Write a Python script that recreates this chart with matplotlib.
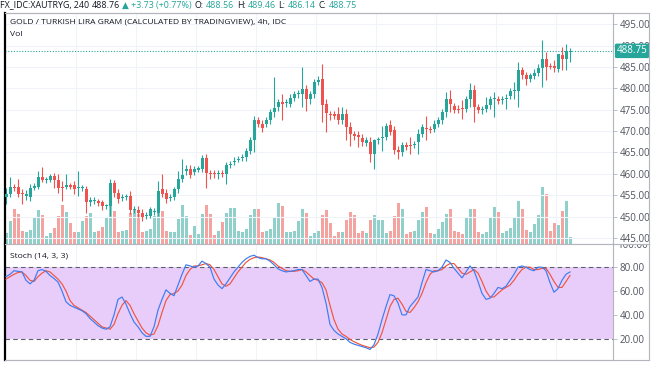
import matplotlib
matplotlib.use("Agg")
import matplotlib.pyplot as plt
from matplotlib.lines import Line2D
from matplotlib.transforms import Bbox, TransformedBbox, blended_transform_factory
import numpy as np

plt.rcParams['font.family'] = ['Open Sans', 'DejaVu Sans']

# --- data (4h candles) ---
opens = [454.7, 455.4, 457.0, 457.0, 455.5, 454.8, 454.6, 456.8, 457.0, 459.3,
         458.5, 458.5, 459.5, 458.5, 456.9, 456.9, 457.3, 457.3, 456.6, 456.7,
         456.4, 453.5, 453.7, 453.5, 453.5, 452.4, 452.5, 457.9, 455.6, 454.4,
         454.6, 454.8, 451.5, 451.6, 450.9, 450.1, 450.2, 451.0, 450.9, 456.4,
         455.6, 454.3, 454.6, 456.4, 458.8, 460.6, 461.1, 460.5, 461.0, 461.1,
         463.8, 460.3, 460.2, 459.9, 460.3, 459.9, 462.0, 462.7, 463.3, 463.7,
         463.9, 465.4, 467.9, 472.6, 471.7, 471.7, 472.5, 474.4, 475.6, 476.9,
         476.5, 476.4, 477.8, 478.6, 478.7, 479.9, 477.5, 478.6, 481.5, 482.2,
         476.4, 474.0, 474.0, 474.0, 472.6, 474.0, 470.9, 469.2, 469.0, 468.4,
         467.1, 467.5, 464.6, 467.9, 468.3, 468.5, 471.5, 470.3, 465.6, 465.0,
         466.8, 466.8, 466.8, 467.4, 469.2, 470.8, 470.5, 470.5, 471.7, 472.6,
         474.4, 477.5, 475.8, 475.2, 475.3, 475.2, 477.5, 479.7, 475.6, 474.9,
         475.2, 476.0, 477.5, 477.5, 477.3, 477.4, 478.3, 479.4, 479.3, 484.2,
         483.2, 482.2, 482.8, 483.6, 484.8, 486.9, 485.2, 485.1, 484.6, 487.7,
         486.9, 488.56]
closes = [455.4, 457.0, 456.7, 455.4, 455.2, 455.4, 456.8, 457.0, 459.3, 458.5,
          458.6, 459.5, 458.5, 456.8, 456.7, 457.3, 456.9, 456.4, 456.8, 456.8,
          453.5, 453.8, 454.0, 453.3, 452.5, 452.5, 457.9, 455.6, 454.1, 454.6,
          454.8, 451.5, 451.7, 450.9, 449.9, 450.4, 451.7, 451.2, 455.9, 455.2,
          454.1, 454.5, 456.4, 458.8, 459.8, 461.1, 459.8, 461.1, 461.2, 463.8,
          460.1, 459.9, 459.9, 460.2, 459.9, 462.0, 462.4, 463.1, 463.5, 464.0,
          465.4, 467.9, 472.6, 471.7, 470.7, 472.5, 474.4, 475.4, 476.9, 476.4,
          476.7, 477.8, 478.6, 478.8, 479.9, 477.5, 478.6, 481.5, 482.0, 476.1,
          474.2, 473.8, 473.6, 472.6, 474.0, 470.9, 469.2, 468.9, 468.7, 467.5,
          467.9, 464.6, 467.8, 468.1, 468.5, 471.3, 469.7, 465.6, 465.0, 466.8,
          466.2, 466.5, 467.0, 469.3, 471.0, 470.5, 470.3, 471.7, 472.6, 474.4,
          477.5, 476.4, 475.0, 474.9, 475.1, 477.5, 479.7, 475.6, 474.9, 475.2,
          476.0, 477.5, 477.7, 477.1, 477.5, 477.6, 479.3, 479.5, 484.2, 483.0,
          482.1, 483.0, 483.6, 484.8, 486.9, 485.0, 485.0, 484.8, 487.9, 486.9,
          488.7, 488.75]
highs = [456.8, 459.2, 457.6, 458.8, 456.4, 456.2, 457.6, 457.8, 460.7, 461.6,
         459.3, 460.0, 460.3, 459.9, 458.4, 459.9, 457.8, 458.4, 460.7, 457.5,
         457.2, 454.5, 454.7, 454.2, 454.0, 453.0, 458.8, 458.6, 456.4, 455.4,
         455.4, 456.0, 452.5, 452.5, 451.7, 451.0, 452.2, 452.0, 458.4, 459.9,
         456.4, 455.3, 457.0, 460.7, 463.5, 462.0, 462.0, 461.9, 461.9, 464.5,
         464.6, 461.0, 460.9, 460.9, 461.0, 462.7, 463.0, 463.9, 464.2, 464.6,
         466.1, 468.6, 473.6, 473.3, 472.5, 473.3, 475.2, 482.6, 477.6, 478.7,
         477.5, 478.7, 479.4, 479.5, 485.0, 480.7, 479.4, 482.2, 482.8, 485.6,
         477.5, 474.8, 474.8, 475.6, 475.6, 475.2, 472.1, 470.1, 470.1, 469.3,
         468.6, 468.5, 468.2, 468.7, 471.3, 472.0, 472.5, 471.3, 466.6, 467.5,
         467.5, 468.5, 467.7, 470.5, 471.7, 473.6, 471.2, 472.5, 473.3, 475.2,
         479.1, 479.5, 476.5, 476.0, 477.2, 478.3, 481.2, 480.7, 476.4, 475.9,
         477.9, 478.3, 479.1, 478.3, 478.3, 478.7, 480.0, 481.5, 486.1, 485.0,
         483.8, 483.6, 484.4, 485.6, 491.2, 488.5, 485.8, 486.5, 488.1, 489.7,
         490.3, 489.46]
lows = [452.9, 454.5, 456.0, 454.5, 452.9, 453.9, 453.7, 456.2, 456.4, 458.0,
        457.8, 458.0, 456.8, 455.6, 453.7, 456.4, 456.4, 455.2, 454.8, 456.0,
        450.9, 452.5, 453.0, 452.5, 451.5, 451.8, 450.2, 454.6, 453.3, 453.7,
        453.9, 450.5, 450.9, 449.8, 449.0, 449.4, 449.6, 450.3, 450.1, 454.5,
        453.3, 453.7, 453.9, 455.6, 458.0, 459.8, 459.0, 459.8, 460.4, 460.5,
        456.8, 458.8, 459.0, 458.8, 459.2, 457.6, 461.4, 462.0, 462.7, 463.1,
        463.1, 464.6, 465.0, 471.0, 469.7, 470.9, 471.7, 473.2, 474.8, 472.5,
        475.6, 475.6, 477.0, 477.8, 475.6, 474.8, 476.4, 477.8, 480.7, 472.1,
        469.7, 472.5, 472.9, 471.7, 471.7, 467.8, 466.6, 467.8, 466.2, 466.6,
        466.4, 462.7, 461.1, 467.0, 465.4, 467.8, 469.0, 464.6, 463.5, 464.2,
        465.5, 464.6, 466.0, 464.6, 468.5, 467.8, 469.6, 469.7, 471.0, 471.7,
        473.2, 474.4, 474.2, 474.2, 472.9, 474.4, 475.6, 472.1, 474.2, 474.1,
        474.4, 475.2, 473.2, 476.4, 476.4, 475.2, 477.5, 477.5, 475.6, 482.2,
        480.7, 481.5, 482.2, 482.8, 480.3, 482.0, 484.4, 483.8, 483.8, 484.2,
        484.2, 486.14]
volumes = [32, 70, 107, 92, 38, 35, 43, 77, 103, 88,
           25, 32, 47, 83, 118, 97, 62, 37, 37, 70,
           83, 95, 37, 40, 52, 80, 118, 100, 37, 40,
           43, 95, 103, 90, 35, 40, 45, 85, 108, 100,
           38, 37, 35, 75, 118, 85, 28, 53, 30, 92,
           118, 90, 28, 38, 65, 93, 110, 110, 38, 37,
           45, 88, 105, 107, 35, 38, 45, 82, 123, 115,
           35, 37, 40, 70, 105, 93, 25, 32, 40, 88,
           103, 63, 25, 35, 35, 73, 98, 87, 33, 40,
           33, 73, 88, 73, 73, 33, 40, 85, 125, 105,
           30, 35, 40, 73, 97, 112, 33, 30, 45, 67,
           90, 107, 40, 35, 30, 80, 107, 107, 35, 30,
           35, 82, 112, 97, 33, 40, 47, 80, 130, 105,
           42, 35, 60, 88, 172, 152, 40, 63, 57, 100,
           130, 20]
stoch_k = [72, 74, 77, 76.5, 76, 69, 66, 69, 77, 78,
           76.5, 73, 70.5, 67.5, 60, 51, 48, 46.5, 45, 43.5,
           41, 37, 34, 31, 29, 28, 30, 40, 53, 55,
           49, 41, 34, 30, 25, 22, 22, 30, 44, 53,
           61, 58, 56, 65, 74, 82, 81, 80, 81, 85,
           83, 80, 70, 65, 62, 66, 71, 76, 80, 84,
           87, 89, 90, 88, 87, 87, 85, 82, 78.6, 77,
           76, 76.5, 77, 78, 78, 73, 68, 70, 70, 63,
           50, 32, 27, 24, 22, 20, 17, 15.5, 14.5, 13.5,
           12.5, 11, 15, 24, 36, 47, 57, 56, 50, 40,
           40, 47, 51, 55, 67, 78, 77, 76, 77, 80,
           86, 84, 79, 75, 71, 76, 81, 77, 68, 58,
           53, 54, 58, 63, 62, 64, 69, 74, 80, 81,
           80, 78, 77, 80, 80, 77, 67, 59, 62, 69,
           74, 76]
stoch_d = [70, 72, 74, 75.5, 76, 73, 69, 68, 72, 75,
           77, 76, 73, 70, 66, 60, 52, 48, 46, 44,
           42, 39, 36, 33, 30, 29, 28, 32, 41, 48,
           52, 48, 41, 35, 29, 25, 23, 24, 31, 42,
           52, 57, 58, 60, 65, 73, 78, 81, 81, 82,
           83, 82, 78, 72, 66, 64, 66, 71, 76, 80,
           84, 86.5, 88, 88.5, 88, 87, 86, 84, 81, 79,
           77, 76.5, 76.5, 77, 78, 76, 73, 70, 69, 67,
           61, 48, 36, 28, 24, 22, 19.5, 17.5, 16, 14.5,
           13.5, 12.5, 13, 17, 25, 36, 47, 53, 54, 49,
           43, 42, 46, 51, 58, 67, 74, 77, 77, 78,
           81, 83, 83, 79, 75, 74, 76, 78, 75, 68,
           60, 55, 55, 58, 61, 63, 65, 69, 74, 78,
           80, 80, 78, 78, 79, 79, 74, 68, 63, 63,
           68, 73]
price_ticks = [445, 450, 455, 460, 465, 470, 475, 480, 485, 490, 495]
stoch_ticks = [20, 40, 60, 80]
last_price = 488.75

# --- colours ---
UP, DOWN = '#26a69a', '#ef5350'
UP_VOL, DOWN_VOL = '#8fd0ca', '#f5a3a1'
GRID = '#f0f3fa'
TXT = '#131722'
AXT = '#50535e'
FRAME = '#b2b5be'

W, H = 654, 366
fig = plt.figure(figsize=(W / 100, H / 100), dpi=100)


def fx(px):
    return px / W


def fy(py):
    return 1 - py / H


L, R = 5, 613
T1, B1 = 13, 244
T2, B2 = 244, 360
rect1 = [fx(L), fy(B1), (R - L) / W, (B1 - T1) / H]
rect2 = [fx(L), fy(B2), (R - L) / W, (B2 - T2) / H]

ax_vol = fig.add_axes(rect1)
ax = fig.add_axes(rect1, sharex=ax_vol)
ax_st = fig.add_axes(rect2, sharex=ax_vol)
ax.patch.set_visible(False)

idx = np.arange(len(closes))
o = np.array(opens)
c = np.array(closes)
up = c >= o
xmin, xmax = -0.25, 151.75
vgrid = [17.5, 32.5, 47.5, 62.5, 77.5, 92.5, 107.5, 122.5, 137.5]

# volume underneath (crisp, pixel-snapped bars)
ax_vol.bar(idx, volumes, width=0.75, color=np.where(up, UP_VOL, DOWN_VOL),
           linewidth=0, antialiased=False)
ax_vol.set_ylim(0, 697)
ax_vol.set_xlim(xmin, xmax)
ax_vol.axis('off')

# price grid
for p in price_ticks:
    ax.axhline(p, color=GRID, lw=0.8, zorder=0)
for v in vgrid:
    ax.axvline(v, color=GRID, lw=0.8, zorder=0)
    ax_st.axvline(v, color=GRID, lw=0.8, zorder=0)

# candles
cols = np.where(up, UP, DOWN)
ax.vlines(idx, lows, highs, colors=cols, lw=0.8, zorder=2)
body_lo = np.minimum(o, c)
body_h = np.maximum(np.abs(c - o), 0.25)
ax.bar(idx, body_h, bottom=body_lo, width=0.75, color=cols, linewidth=0,
       antialiased=False, zorder=3)

ax.axhline(last_price, color=UP, lw=0.8, ls=(0, (1, 1.5)), zorder=1)
ax.set_ylim(443.6, 497.6)
ax.set_xlim(xmin, xmax)
ax.yaxis.tick_right()
ax.set_yticks(price_ticks)
ax.set_yticklabels([f"{p:.2f}" for p in price_ticks])
ax.tick_params(axis='y', labelsize=7, colors=AXT, length=3, width=0.6, pad=2)
ax.tick_params(axis='y', color=FRAME)
ax.set_xticks([])
for s in ['top', 'bottom', 'right']:
    ax.spines[s].set_color(FRAME)
    ax.spines[s].set_linewidth(0.8)
ax.spines['left'].set_color('#000000')
ax.spines['left'].set_linewidth(1.6)

tr = blended_transform_factory(ax.transAxes, ax.transData)
ax.text(1.006, last_price, f"{last_price:.2f}", transform=tr, fontsize=7, color='white',
        va='center', ha='left', zorder=20, clip_on=False,
        bbox=dict(boxstyle='round,pad=0.18,rounding_size=0.15', fc=UP, ec='none'))

# stochastic panel
ax_st.fill_between([xmin, xmax], 20, 80, color='#e8cdfb', lw=0, zorder=0)
for lvl in (20, 80):
    ax_st.axhline(lvl, color='#5d606b', lw=0.8, ls=(0, (4, 3)), zorder=1)
ax_st.plot(idx, stoch_d, color='#f0553d', lw=0.85, zorder=3)
ax_st.plot(idx, stoch_k, color='#3c7cf2', lw=0.85, zorder=4)
ax_st.set_ylim(2.2, 99.4)
ax_st.set_xlim(xmin, xmax)
ax_st.yaxis.tick_right()
ax_st.set_yticks(stoch_ticks)
ax_st.set_yticklabels([f"{v:.2f}" for v in stoch_ticks])
ax_st.tick_params(axis='y', labelsize=7, colors=AXT, length=3, width=0.6, pad=2)
ax_st.tick_params(axis='y', color=FRAME)
ax_st.set_xticks([])
for s in ['top', 'bottom', 'right']:
    ax_st.spines[s].set_color(FRAME)
    ax_st.spines[s].set_linewidth(0.8)
ax_st.spines['left'].set_color('#000000')
ax_st.spines['left'].set_linewidth(1.6)

# clipped "100.00" label at the panel border
t100 = fig.text(fx(617), fy(245), "100.00", fontsize=7, color=AXT, va='center', ha='left')
t100.set_clip_box(TransformedBbox(Bbox([[fx(613), fy(B2)], [1.0, fy(T2 + 1)]]), fig.transFigure))
t100.set_clip_on(True)

# outer frame over the axis column
for (x0, y0, x1, y1) in [(L, T1, 649, T1), (649, T1, 649, B2), (L, B2, 649, B2), (R, T2, 649, T2)]:
    fig.add_artist(Line2D([fx(x0), fx(x1)], [fy(y0), fy(y1)], color=FRAME, lw=0.8))

# texts
renderer = fig.canvas.get_renderer()


def text_row(parts, x0, ypix, size, gap):
    x = x0
    for s, col in parts:
        t = fig.text(fx(x), fy(ypix), s, color=col, fontsize=size, va='center', ha='left')
        x += t.get_window_extent(renderer=renderer).width + gap


text_row([("FX_IDC:XAUTRYG, 240", TXT), ("488.76", TXT), ("\u25b2 +3.73 (+0.77%)", UP),
          ("O:", TXT), ("488.56", UP), ("H:", TXT), ("489.46", UP), ("L:", TXT),
          ("486.14", UP), ("C:", TXT), ("488.75", UP)], 0, 5, 6.4, 2.5)
fig.text(fx(10), fy(22), "GOLD / TURKISH LIRA GRAM (CALCULATED BY TRADINGVIEW), 4h, IDC",
         fontsize=6.1, color=TXT, va='center', ha='left')
fig.text(fx(10), fy(35), "Vol", fontsize=6.1, color=TXT, va='center', ha='left')
fig.text(fx(10), fy(256), "Stoch (14, 3, 3)", fontsize=6.1, color=TXT, va='center', ha='left')

fig.savefig("out.png", dpi=100)
